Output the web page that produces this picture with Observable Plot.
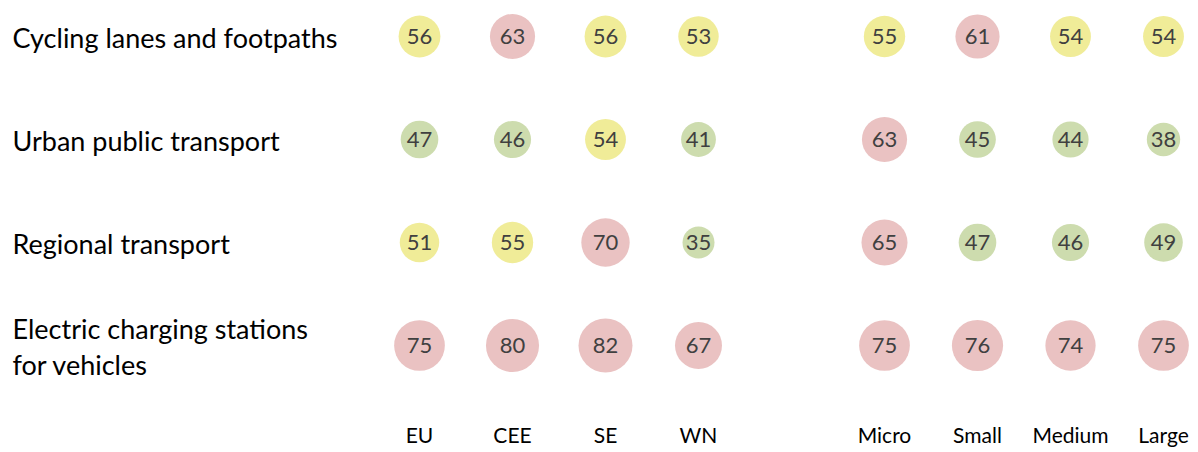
<!DOCTYPE html>
<html>
<head>
<meta charset="utf-8">
<script src="https://cdn.jsdelivr.net/npm/d3@7"></script>
<script src="https://cdn.jsdelivr.net/npm/@observablehq/plot@0.6"></script>
<style>
  html, body { margin: 0; padding: 0; background: #fff; }
  svg { display: block; }
</style>
</head>
<body>
<div id="chart"></div>
<script>
const rows = [
  "Cycling lanes and footpaths",
  "Urban public transport",
  "Regional transport",
  "Electric charging stations\nfor vehicles"
];
const gap = " ";
const columns = ["EU", "CEE", "SE", "WN", gap, "Micro", "Small", "Medium", "Large"];
const eu     = [56, 47, 51, 75];
const cee    = [63, 46, 55, 80];
const se     = [56, 54, 70, 82];
const wn     = [53, 41, 35, 67];
const micro  = [55, 63, 65, 75];
const small  = [61, 45, 47, 76];
const medium = [54, 44, 46, 74];
const large  = [54, 38, 49, 75];

const series = {EU: eu, CEE: cee, SE: se, WN: wn, Micro: micro, Small: small, Medium: medium, Large: large};
const data = [];
for (const [col, vals] of Object.entries(series)) {
  vals.forEach((v, i) => data.push({col, row: rows[i], value: v}));
}
const labels = rows.map(r => ({row: r}));

const font = "Lato, 'Open Sans', sans-serif";
const chart = Plot.plot({
  width: 1198,
  height: 452,
  marginLeft: 418,
  marginRight: 34,
  marginTop: 35,
  marginBottom: 107,
  style: {fontFamily: font, background: "#fff"},
  x: {type: "point", domain: columns, padding: 0, axis: null},
  y: {type: "point", domain: rows, padding: 0, axis: null},
  r: {type: "linear", domain: [35, 82], range: [16, 27]},
  color: {type: "threshold", domain: [50, 60], range: ["#cddcae", "#f0ec98", "#eac2c2"]},
  marks: [
    Plot.dot(data, {x: "col", y: "row", r: "value", fill: "value", stroke: "none"}),
    Plot.text(data, {x: "col", y: "row", text: d => String(d.value), fill: "#404040", fontSize: 22}),
    Plot.text(labels, {y: "row", text: "row", frameAnchor: "left", dx: -406, textAnchor: "start", fontSize: 27, fill: "#000", lineHeight: 1.33}),
    Plot.axisX({domain: columns, tickSize: 0, tickPadding: 83, fontSize: 21, tickFormat: d => d.trim(), fill: "#000", label: null})
  ]
});
document.getElementById("chart").appendChild(chart);
</script>
</body>
</html>
